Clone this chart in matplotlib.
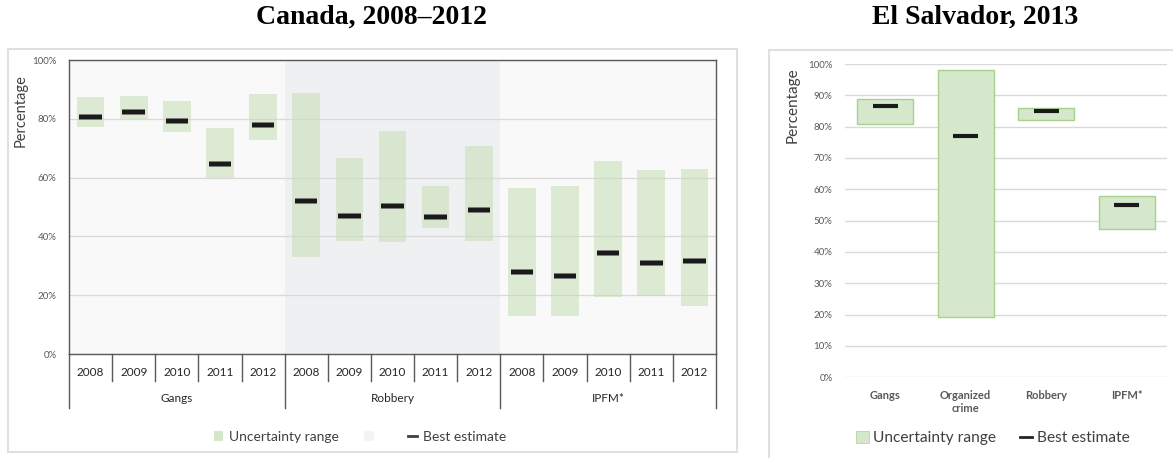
import matplotlib
matplotlib.use("Agg")
import matplotlib.pyplot as plt
import matplotlib.patches as mpatches
import matplotlib.patheffects as pe
from matplotlib.lines import Line2D
import matplotlib.transforms as mtransforms
import numpy as np

# ---------------- data ----------------
years = ["2008", "2009", "2010", "2011", "2012"]
canada_groups = ["Gangs", "Robbery", "IPFM*"]
canada_low = [77.3, 79.8, 75.6, 60.0, 72.8,
              33.1, 38.4, 38.0, 42.7, 38.5,
              12.8, 13.0, 19.4, 19.6, 16.4]
canada_high = [87.5, 87.8, 86.0, 76.8, 88.4,
               88.9, 66.7, 76.0, 57.0, 70.9,
               56.6, 57.3, 65.6, 62.5, 63.0]
canada_best = [80.7, 82.3, 79.1, 64.5, 77.8,
               51.9, 47.0, 50.3, 46.7, 49.0,
               27.8, 26.5, 34.5, 31.1, 31.5]

es_categories = ["Gangs", "Organized\ncrime", "Robbery", "IPFM*"]
es_low = [80.7, 19.3, 82.0, 47.2]
es_high = [88.7, 98.0, 86.0, 58.0]
es_best = [86.6, 77.0, 84.9, 55.1]

left_yticks = [0, 20, 40, 60, 80, 100]
right_yticks = [0, 10, 20, 30, 40, 50, 60, 70, 80, 90, 100]

# ---------------- figure ----------------
W, H = 1173, 458
fig = plt.figure(figsize=(W / 100, H / 100), dpi=100)
fig.patch.set_facecolor("white")
plt.rcParams["font.family"] = ["Lato", "DejaVu Sans"]

def rect(x0, y0, x1, y1):
    return [x0 / W, 1 - y1 / H, (x1 - x0) / W, (y1 - y0) / H]

TXT = "#404040"
GRID = "#d9d9d9"
GREEN = "#c6dfb5"
BEST = "#1a1a1a"

# panel borders
fig.add_artist(mpatches.Rectangle((8 / W, 1 - 452 / H), (737 - 8) / W, (452 - 49) / H,
                                  transform=fig.transFigure, fill=False,
                                  edgecolor="#e0e0e0", lw=1.5))
fig.add_artist(mpatches.Rectangle((769 / W, 1 - 475 / H), (1190 - 769) / W, (475 - 50) / H,
                                  transform=fig.transFigure, fill=False,
                                  edgecolor="#e0e0e0", lw=1.5, clip_on=False))

# titles
title_font = dict(family=["Liberation Serif"], fontweight="bold", fontsize=20, color="black")
fig.text(372 / W, 1 - 17 / H, "Canada, 2008–2012", ha="center", va="center", **title_font)
fig.text(975 / W, 1 - 17 / H, "El Salvador, 2013", ha="center", va="center", **title_font)

# ---------------- left chart ----------------
ax = fig.add_axes(rect(69, 60, 716, 354))
ax.set_facecolor("#f9f9f9")
n = len(canada_low)
x = np.arange(n)
ax.set_xlim(-0.5, n - 0.5)
ax.set_ylim(0, 100)
ax.axvspan(4.5, 9.5, color="#eff0f2", zorder=0.5, lw=0)
ax.set_yticks(left_yticks)
ax.set_yticklabels([f"{v}%" for v in left_yticks], fontsize=7, color="#595959")
ax.tick_params(axis="y", length=0, pad=9)
ax.set_xticks([])
ax.grid(axis="y", color=GRID, lw=0.9, zorder=0.6)
ax.set_axisbelow(True)
for s in ax.spines.values():
    s.set_color("#595959")
    s.set_linewidth(1.0)

heights = [h - l for h, l in zip(canada_high, canada_low)]
ax.bar(x, heights, bottom=canada_low, width=0.64, color=GREEN, alpha=0.55, lw=0, zorder=2)
bw = 0.26
ax.hlines(canada_best, x - bw, x + bw, colors=BEST, lw=3.0, zorder=3,
          path_effects=[pe.Stroke(linewidth=4.2, foreground="#7f7f7f"), pe.Normal()])

trans = mtransforms.blended_transform_factory(ax.transData, ax.transAxes)
yr_sep = -(381 - 354) / 294
grp_sep = -(408 - 354) / 294
for i in range(n):
    ax.text(i, -(372.7 - 354) / 294, years[i % 5], transform=trans, ha="center", va="center",
            fontsize=8.5, color="#262626")
for i in range(n + 1):
    xb = i - 0.5
    bottom = grp_sep if i % 5 == 0 else yr_sep
    ax.plot([xb, xb], [0, bottom], transform=trans, color="#595959", lw=1.0, clip_on=False)
for g, name in enumerate(canada_groups):
    ax.text(g * 5 + 2, -(399 - 354) / 294, name, transform=trans, ha="center", va="center",
            fontsize=8.5, color="#262626")

fig.text(21 / W, 1 - 111 / H, "Percentage", rotation=90, ha="center", va="center",
         fontsize=10.5, color=TXT)

h_unc = mpatches.Patch(facecolor=GREEN, alpha=0.75, lw=0)
h_bg = mpatches.Patch(facecolor="#f4f4f5", lw=0)
h_best = Line2D([], [], color="#404040", lw=2)
fig.legend([h_unc, h_bg, h_best], ["Uncertainty range", " ", "Best estimate"],
           loc="center", bbox_to_anchor=(360 / W, 1 - 437 / H), ncol=3, frameon=False,
           fontsize=10, handlelength=0.7, handleheight=0.7, handletextpad=0.4,
           columnspacing=1.8, labelcolor=TXT)

# ---------------- right chart ----------------
ax2 = fig.add_axes(rect(845, 64, 1167, 377.3))
ax2.set_facecolor("white")
m = len(es_low)
x2 = np.arange(m)
ax2.set_xlim(-0.5, m - 0.5)
ax2.set_ylim(0, 100)
for s in ax2.spines.values():
    s.set_visible(False)
ax2.set_yticks(right_yticks)
ax2.set_yticklabels([f"{v}%" for v in right_yticks], fontsize=7, color="#595959")
ax2.tick_params(axis="y", length=0, pad=9)
ax2.grid(axis="y", color=GRID, lw=1.0)
ax2.set_axisbelow(True)
ax2.set_xticks(x2)
ax2.set_xticklabels(es_categories, fontsize=8, fontweight="bold", color="#595959")
ax2.tick_params(axis="x", length=0, pad=9)

h2 = [h - l for h, l in zip(es_high, es_low)]
ax2.bar(x2, h2, bottom=es_low, width=0.69, facecolor="#d5e8cb", edgecolor="#a9d18e",
        lw=1.0, zorder=2)
bw2 = 0.155
ax2.hlines(es_best, x2 - bw2, x2 + bw2, colors=BEST, lw=3.0, zorder=3)

fig.text(793 / W, 1 - 105 / H, "Percentage", rotation=90, ha="center", va="center",
         fontsize=11, color=TXT)

h_unc2 = mpatches.Patch(facecolor="#d5e8cb", edgecolor="#a9d18e", lw=0.5)
h_best2 = Line2D([], [], color="#262626", lw=2)
fig.legend([h_unc2, h_best2], ["Uncertainty range", "Best estimate"],
           loc="center", bbox_to_anchor=(993 / W, 1 - 438 / H), ncol=2, frameon=False,
           fontsize=11.2, handlelength=0.8, handleheight=0.8, handletextpad=0.3,
           columnspacing=1.5, labelcolor=TXT)

fig.savefig("out.png", dpi=100, facecolor="white")
